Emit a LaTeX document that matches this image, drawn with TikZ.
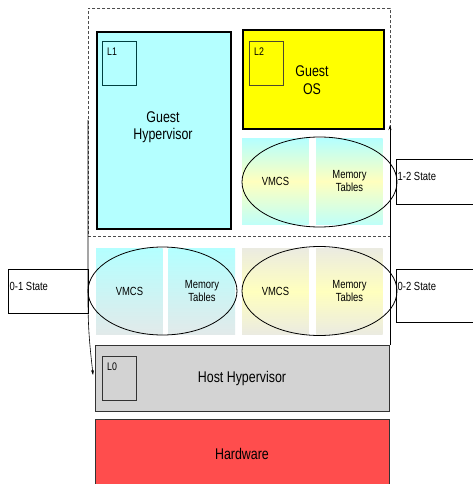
\documentclass[tikz,border=0pt]{standalone}
\usepackage{fontspec}
\setmainfont{Liberation Sans}[FakeStretch=0.8]
\usetikzlibrary{shapes.geometric,calc,arrows.meta}
\definecolor{cyanfill}{RGB}{180,255,255}
\definecolor{yelfill}{RGB}{255,255,0}
\definecolor{lightyel}{RGB}{255,255,190}
\definecolor{cyanbot}{RGB}{192,255,248}
\definecolor{graybot}{RGB}{226,234,234}
\definecolor{warmgray}{RGB}{235,235,225}
\definecolor{hostgray}{RGB}{211,211,211}
\definecolor{hwred}{RGB}{255,77,77}
\newcommand\bigtxt{\fontsize{15.5}{17.5}\selectfont}
\newcommand\midtxt{\fontsize{11.8}{13.2}\selectfont}
\newcommand\smtxt{\fontsize{11}{12}\selectfont}
\begin{document}
\begin{tikzpicture}[x=1pt,y=-1pt,
  layer/.style={draw=black, anchor=north west, inner sep=0pt},
  lbox/.style={draw, anchor=north west, inner sep=0pt, minimum width=34pt, minimum height=44pt, line width=0.8pt},
  ltxt/.style={anchor=north west, inner sep=0pt, font=\smtxt},
  memrect/.style={anchor=north west, inner sep=0pt, minimum width=66.5pt, minimum height=86pt, align=center, font=\midtxt},
  oval/.style={ellipse, draw=black, line width=0.8pt, inner sep=0pt},
  statebox/.style={draw=black, line width=0.7pt, anchor=north west, inner sep=0pt},
  statetxt/.style={anchor=west, inner sep=0pt, font=\midtxt},
  conn/.style={draw=black, line width=0.6pt, -{Stealth[length=5pt,width=3pt]}},
  shade12/.style={top color=cyanfill, bottom color=cyanbot, middle color=lightyel},
  shade01/.style={top color=cyanfill, bottom color=graybot},
  shade02/.style={top color=warmgray, bottom color=warmgray, middle color=lightyel}
]
\useasboundingbox (0,0) rectangle (473,484);
\clip (0,0) rectangle (473,484);
\fill[white] (0,0) rectangle (473,484);

% dashed region
\node[anchor=north west, draw=black!70, densely dashed, line width=0.6pt, inner sep=0pt,
      minimum width=302pt, minimum height=228pt] (region) at (88,8) {};

% Guest Hypervisor
\node[layer, fill=cyanfill, line width=1.6pt, minimum width=134pt, minimum height=197pt] (gh) at (96,31) {};
\node[align=center, font=\bigtxt] (ghtxt) at (163,127) {Guest\\Hypervisor};
\node[lbox, draw=teal!50!black] (l1) at (102,41) {};
\node[ltxt] (l1t) at ($(l1.north west)+(5,7)$) {L1};

% Guest OS
\node[layer, fill=yelfill, line width=1.6pt, minimum width=141pt, minimum height=99pt] (gos) at (242,29) {};
\node[align=center, font=\bigtxt] (gostxt) at (312,80) {Guest\\OS};
\node[lbox, draw=olive!40!black] (l2) at (249,41) {};
\node[ltxt] (l2t) at ($(l2.north west)+(5,7)$) {L2};

% 1-2 state
\node[memrect, shade12] (v12) at (242,138) {VMCS};
\node[memrect, shade12] (m12) at (316,138) {Memory\\Tables};
\node[oval, minimum width=155pt, minimum height=90pt] (e12) at (319.5,182) {};
\node[statebox, minimum width=82pt, minimum height=45pt] (s12) at (396,159) {};
\node[statetxt] (s12t) at ($(s12.north west)+(1.5,17)$) {1-2 State};

% 0-1 state
\node[memrect, shade01] (v01) at (96,248) {VMCS};
\node[memrect, shade01] (m01) at (168.5,248) {Memory\\Tables};
\node[oval, minimum width=149pt, minimum height=88pt] (e01) at (162.5,291) {};
\node[statebox, minimum width=80pt, minimum height=44pt] (s01) at (8,269) {};
\node[statetxt] (s01t) at ($(s01.north west)+(1.5,17)$) {0-1 State};

% 0-2 state
\node[memrect, shade02] (v02) at (242,248) {VMCS};
\node[memrect, shade02] (m02) at (316,248) {Memory\\Tables};
\node[oval, minimum width=155pt, minimum height=89pt] (e02) at (319.5,291) {};
\node[statebox, minimum width=82pt, minimum height=53pt] (s02) at (396,269) {};
\node[statetxt] (s02t) at ($(s02.north west)+(1.5,17)$) {0-2 State};

% Host hypervisor
\node[layer, fill=hostgray, line width=1.1pt, draw=black!80, minimum width=294pt, minimum height=66pt] (hh) at (95,345) {};
\node[font=\bigtxt] (hhtxt) at (242,378) {Host Hypervisor};
\node[lbox, draw=black!80] (l0) at (102,356) {};
\node[ltxt] (l0t) at ($(l0.north west)+(5,7)$) {L0};

% Hardware
\node[layer, fill=hwred, line width=1.1pt, draw=black!80, minimum width=294pt, minimum height=70pt] (hw) at (95,419) {};
\node[font=\bigtxt] (hwtxt) at (242,454) {Hardware};

% connectors
\coordinate (rb) at (390,345);
\coordinate (rt) at (390,125);
\coordinate (lt) at (88,120);
\coordinate (lm) at (88,300);
\coordinate (ltip) at (93,375);
\draw[conn] (rb) -- (rt);
\draw[conn] (lt) -- (lm) .. controls (88,335) and (91,355) .. (ltip);
\end{tikzpicture}
\end{document}
